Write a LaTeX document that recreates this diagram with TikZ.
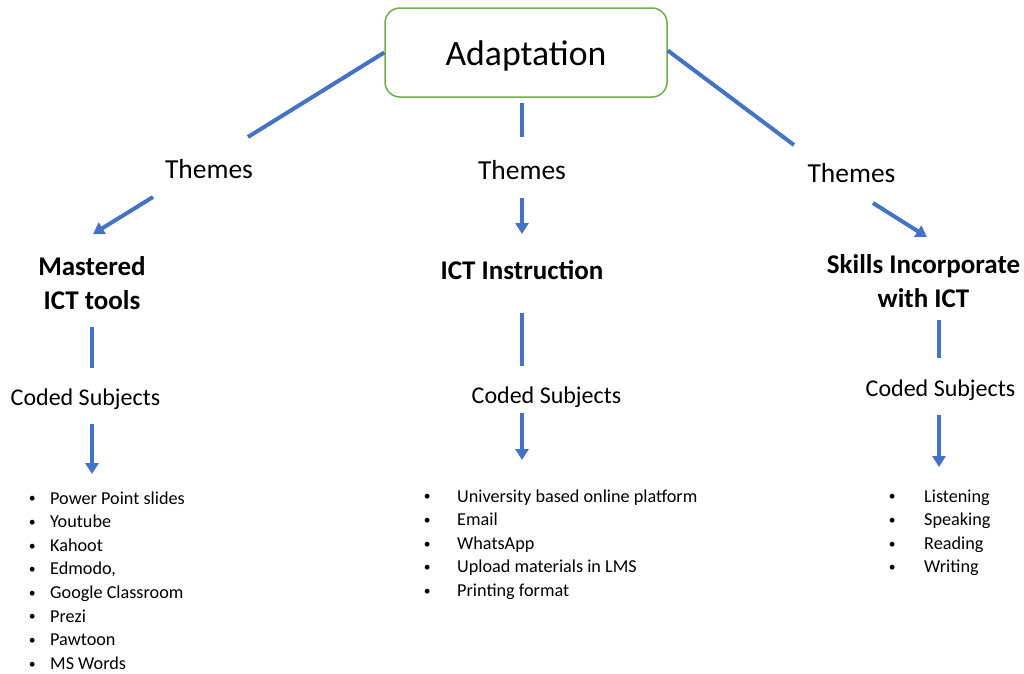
\documentclass[tikz,border=0pt]{standalone}
\usepackage{fontspec}
\setmainfont{Carlito}
\usetikzlibrary{arrows.meta}
\definecolor{linkblue}{HTML}{4472C4}
\definecolor{boxgreen}{HTML}{70AD47}
\tikzset{
  rootbox/.style={draw=boxgreen, line width=1.5pt, rounded corners=15pt, minimum width=282pt, minimum height=89pt, inner sep=0pt},
  label/.style={inner sep=0pt, anchor=base, font=\fontsize{27.5}{33}\selectfont},
  coded/.style={inner sep=0pt, anchor=base, font=\fontsize{24}{29}\selectfont},
  heading/.style={inner sep=0pt, anchor=base, font=\fontsize{27}{34}\selectfont\bfseries},
  listtxt/.style={inner sep=0pt, anchor=base west, font=\fontsize{18.2}{23.6}\selectfont},
  link/.style={draw=linkblue, line width=4pt},
  linkarrow/.style={link, -{Triangle[width=13pt,length=11pt]}},
}
\newcommand{\bul}[1]{\makebox[0pt]{\raisebox{1.2pt}{\scalebox{0.75}{•}}}\hspace{#1}}
\begin{document}
\begin{tikzpicture}[x=1pt,y=-1pt]
\useasboundingbox (0,0) rectangle (1024,673);

% root
\node[rootbox] (root) at (526,52.5) {};
\node[inner sep=0pt, anchor=base, font=\fontsize{35.7}{43}\selectfont] (roottxt) at (526,65) {Adaptation};

% theme labels
\node[label] (thL) at (209,178) {Themes};
\node[label] (thM) at (522,179) {Themes};
\node[label] (thR) at (851.5,182) {Themes};

% theme headings
\node[heading] (hdL) at (92,275) {\begin{tabular}[t]{@{}c@{}}Mastered\\ICT tools\end{tabular}};
\node[heading] (hdM) at (522,279) {ICT Instruction};
\node[heading] (hdR) at (923.5,273) {\begin{tabular}[t]{@{}c@{}}Skills Incorporate\\with ICT\end{tabular}};

% coded subjects labels
\node[coded] (csL) at (85.5,405) {Coded Subjects};
\node[coded] (csM) at (546.5,403) {Coded Subjects};
\node[coded] (csR) at (940.5,396) {Coded Subjects};

% item lists
\node[listtxt] (liL) at (32,504) {\begin{tabular}[t]{@{}l@{}}
\bul{18pt}Power Point slides\\
\bul{18pt}Youtube\\
\bul{18pt}Kahoot\\
\bul{18pt}Edmodo,\\
\bul{18pt}Google Classroom\\
\bul{18pt}Prezi\\
\bul{18pt}Pawtoon\\
\bul{18pt}MS Words
\end{tabular}};
\node[listtxt] (liM) at (427,502) {\begin{tabular}[t]{@{}l@{}}
\bul{30pt}University based online platform\\
\bul{30pt}Email\\
\bul{30pt}WhatsApp\\
\bul{30pt}Upload materials in LMS\\
\bul{30pt}Printing format
\end{tabular}};
\node[listtxt] (liR) at (892,502) {\begin{tabular}[t]{@{}l@{}}
\bul{32pt}Listening\\
\bul{32pt}Speaking\\
\bul{32pt}Reading\\
\bul{32pt}Writing
\end{tabular}};

% connector end points
\coordinate (aL1) at (248,137);
\coordinate (aL2) at (153,197);
\coordinate (aL3) at (93,234);
\coordinate (aM0) at (522,103);
\coordinate (aM1) at (522,137);
\coordinate (aM2) at (522,198);
\coordinate (aM3) at (522,234);
\coordinate (aR1) at (794,145);
\coordinate (aR2) at (873,203);
\coordinate (aR3) at (927,237);

\coordinate (bL0) at (92,327);
\coordinate (bL1) at (92,368);
\coordinate (bL2) at (92,424);
\coordinate (bL3) at (92,474);
\coordinate (bM0) at (522,313);
\coordinate (bM1) at (522,366);
\coordinate (bM2) at (522,413);
\coordinate (bM3) at (522,460);
\coordinate (bR0) at (939,320);
\coordinate (bR1) at (939,358);
\coordinate (bR2) at (939,415);
\coordinate (bR3) at (939,467);

% root to themes
\draw[link] (root.west) -- (aL1);
\draw[link] (aM0) -- (aM1);
\draw[link] ([yshift=2pt]root.east) -- (aR1);

% themes to headings
\draw[linkarrow] (aL2) -- (aL3);
\draw[linkarrow] (aM2) -- (aM3);
\draw[linkarrow] (aR2) -- (aR3);

% headings to coded subjects
\draw[link] (bL0) -- (bL1);
\draw[link] (bM0) -- (bM1);
\draw[link] (bR0) -- (bR1);

% coded subjects to lists
\draw[linkarrow] (bL2) -- (bL3);
\draw[linkarrow] (bM2) -- (bM3);
\draw[linkarrow] (bR2) -- (bR3);
\end{tikzpicture}
\end{document}
